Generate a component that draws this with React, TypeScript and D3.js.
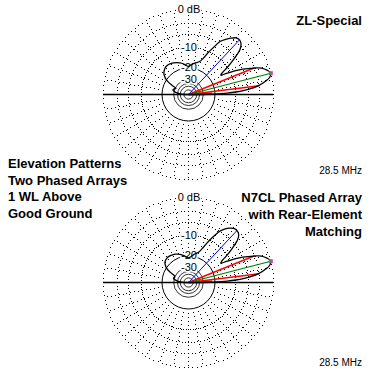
import React from "react";
import * as d3 from "d3";

// elevation angles (deg above horizon, 0 = right/forward, 180 = back)
const elevAngles = [0, 1, 2, 3, 4, 5, 7, 10, 12, 14.5, 17, 20, 22, 25, 27, 29, 31, 33, 35, 38, 41, 44, 47, 50, 53, 56, 59, 62, 65, 68, 72, 76, 80, 85, 90, 95, 100, 105, 110, 115, 120, 125, 130, 135, 140, 145, 148, 151, 154, 157, 160, 163, 166, 169, 172, 176, 180];

// relative gain in dB, ZL-Special
const zlGain = [-45, -19, -13.5, -10, -7.5, -5.8, -3.3, -1.3, -0.4, 0, -0.5, -1.6, -3.2, -6, -8.5, -11.5, -14, -12.5, -10, -6.7, -3.8, -2.6, -2.2, -2.4, -3.2, -4.2, -5.4, -8, -10.5, -13.5, -15.5, -16.3, -17, -18, -19, -18.3, -17.2, -16.4, -15.8, -15.3, -14.9, -14.7, -14.9, -15.6, -16.7, -19, -21.5, -26, -31, -30, -29, -28.5, -29, -31, -34, -40, -50];

// relative gain in dB, N7CL phased array with rear-element matching
const n7Gain = [-45, -19, -13.5, -10, -7.5, -5.8, -3.3, -1.3, -0.4, 0, -0.5, -1.6, -3.2, -6, -8.5, -11.5, -14, -13, -10.5, -7.3, -4.6, -3.4, -3.1, -3.2, -3.8, -4.8, -6.2, -8.8, -11.5, -14.5, -17, -18, -19, -20.5, -21.2, -20.5, -19.5, -18.6, -17.8, -17.2, -16.8, -16.5, -16.4, -16.7, -17.4, -19.3, -21, -24.5, -29, -30, -29.5, -29, -29.5, -31.5, -34, -40, -50];

// grid
const dottedRingDb = [0, -3, -6, -10];
const solidRingDb = [-20, -30, -35, -40, -50];
const ringLabels = [
  { db: 0, text: "0 dB" },
  { db: -10, text: "-10" },
  { db: -20, text: "-20" },
  { db: -30, text: "-30" },
];

// markers: [elevation, dB]
const zlMarkers = { peak: [14.5, 0], lowHalf: [7, -3], highHalf: [22, -3], cursor: [47, -2.2] };
const n7Markers = { peak: [14.5, 0], lowHalf: [7, -3], highHalf: [22, -3], cursor: [47, -3.1] };

const titleLeft = ["Elevation Patterns", "Two Phased Arrays", "1 WL Above", "Good Ground"];
const titleTop = ["ZL-Special"];
const titleBottom = ["N7CL Phased Array", "with Rear-Element", "Matching"];
const freqLabel = "28.5 MHz";

const W = 376;
const H = 380;
const R = 85;
const CX = 188;
const CY1 = 94;
const CY2 = 282;

const logR = d3.scaleLinear().domain([0, -2]).range([Math.log(R), Math.log(R * 0.89)]);
const rOf = (db: number) => Math.exp(logR(db));
const rad = (deg: number) => (deg * Math.PI) / 180;

function gridPath(cx: number, cy: number) {
  let d = "";
  const seen = new Set<string>();
  const dot = (x: number, y: number) => {
    const xi = Math.round(x);
    const yi = Math.round(y);
    const k = xi + "," + yi;
    if (seen.has(k)) return;
    seen.add(k);
    d += `M${xi},${yi}h1v1h-1z`;
  };
  dottedRingDb.forEach((db) => {
    const r = rOf(db);
    for (let a = 0; a < 360; a += 3) {
      dot(cx + r * Math.cos(rad(a)), cy - r * Math.sin(rad(a)));
    }
  });
  for (let a = 0; a < 360; a += 10) {
    for (let r = rOf(-20) + 4; r <= R; r += 4) {
      dot(cx + r * Math.cos(rad(a)), cy - r * Math.sin(rad(a)));
    }
  }
  return d;
}

const lineGen = d3
  .lineRadial<[number, number]>()
  .angle((d) => rad(90 - d[0]))
  .radius((d) => rOf(d[1]))
  .curve(d3.curveCatmullRom.alpha(0.5));

function pt(m: number[]) {
  const r = rOf(m[1]);
  return [r * Math.cos(rad(m[0])), -r * Math.sin(rad(m[0]))];
}

function Polar({ cy, gain, markers }: { cy: number; gain: number[]; markers: any }) {
  const data = elevAngles.map((a, i) => [a, gain[i]] as [number, number]);
  const path = (lineGen(data) || "") + "Z";
  const peak = pt(markers.peak);
  const lo = pt(markers.lowHalf);
  const hi = pt(markers.highHalf);
  const cur = pt(markers.cursor);
  const nearRed = pt([2, -22]);
  return (
    <g>
      <path d={gridPath(CX, cy)} fill="#000" />
      {solidRingDb.map((db) => (
        <circle key={db} cx={CX + 0.5} cy={cy + 0.5} r={rOf(db)} fill="none" stroke="#000" strokeWidth={db === -20 ? 1 : 0.8} />
      ))}
      <line x1={CX - R} x2={CX + R} y1={cy + 0.5} y2={cy + 0.5} stroke="#000" strokeWidth={1.6} />
      {ringLabels.map((l) => (
        <text
          key={l.text}
          x={CX + 1}
          y={cy - rOf(l.db) + 4}
          textAnchor="middle"
          fontSize={11}
          fontFamily="Liberation Sans, Arial, sans-serif"
          fill="#000"
          stroke="#fff"
          strokeWidth={3}
          paintOrder="stroke"
        >
          {l.text}
        </text>
      ))}
      <g transform={`translate(${CX + 0.5},${cy + 0.5})`}>
        <line x1={0} y1={0} x2={cur[0]} y2={cur[1]} stroke="#0000ff" strokeWidth={1} />
        <line x1={0} y1={0} x2={lo[0]} y2={lo[1]} stroke="#ff0000" strokeWidth={1.4} />
        <line x1={0} y1={0} x2={hi[0]} y2={hi[1]} stroke="#ff0000" strokeWidth={1.4} />
        <line x1={0} y1={0} x2={nearRed[0]} y2={nearRed[1]} stroke="#ff0000" strokeWidth={2.2} />
        <line x1={0} y1={0} x2={peak[0]} y2={peak[1]} stroke="#008000" strokeWidth={1.2} />
        <path d={path} fill="none" stroke="#000" strokeWidth={1.3} strokeLinejoin="round" />
        <rect x={peak[0] - 2} y={peak[1] - 2} width={4} height={4} fill="#cc33cc" />
        <rect x={peak[0] - 1} y={peak[1] - 1} width={2} height={2} fill="#33aa33" />
      </g>
    </g>
  );
}

export default function App() {
  const bold = { fontFamily: "Liberation Sans, Arial, sans-serif", fontWeight: 700, fontSize: 13, fill: "#000" } as const;
  const small = { fontFamily: "Liberation Sans, Arial, sans-serif", fontSize: 10, fill: "#000" } as const;
  return (
    <div style={{ position: "fixed", left: 0, top: 0 }}>
      <svg width={W} height={H} style={{ display: "block", background: "#fff" }}>
        <rect width={W} height={H} fill="#fff" />
        <Polar cy={CY1} gain={zlGain} markers={zlMarkers} />
        <Polar cy={CY2} gain={n7Gain} markers={n7Markers} />
        {titleTop.map((t, i) => (
          <text key={t} x={362} y={25 + i * 17} textAnchor="end" {...bold}>{t}</text>
        ))}
        {titleLeft.map((t, i) => (
          <text key={t} x={8} y={168 + i * 16.5} {...bold}>{t}</text>
        ))}
        {titleBottom.map((t, i) => (
          <text key={t} x={362} y={202 + i * 17} textAnchor="end" {...bold}>{t}</text>
        ))}
        <text x={362} y={174} textAnchor="end" {...small}>{freqLabel}</text>
        <text x={362} y={366} textAnchor="end" {...small}>{freqLabel}</text>
      </svg>
    </div>
  );
}
